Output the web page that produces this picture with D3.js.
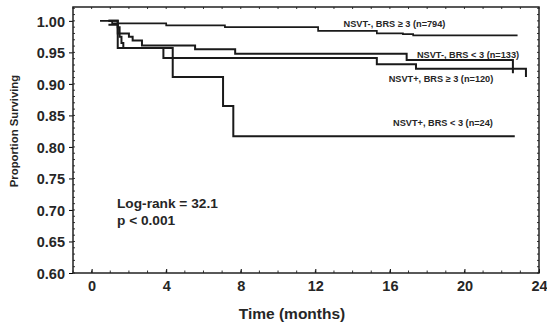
<!DOCTYPE html>
<html>
<head>
<meta charset="utf-8">
<script src="https://cdn.jsdelivr.net/npm/d3@7"></script>
<style>
  body { margin: 0; background: #fff; }
  text { font-family: "Liberation Sans", Arial, sans-serif; font-weight: bold; fill: #262626; }
</style>
</head>
<body>
<div id="chart"></div>
<script>
// Kaplan-Meier curves (time in months, proportion surviving)
const groupLabels = ["NSVT-, BRS \u2265 3 (n=794)", "NSVT-, BRS < 3 (n=133)", "NSVT+, BRS \u2265 3 (n=120)", "NSVT+, BRS < 3 (n=24)"];

const timeA = [0.45, 1.1, 4.0, 7.15, 12.15, 15.3, 16.7, 17.25, 22.85];
const survA = [1.0, 0.996, 0.993, 0.99, 0.984, 0.98, 0.979, 0.977, 0.977];

const timeB = [0.9, 1.4, 2.0, 2.2, 2.7, 5.55, 7.7, 16.9, 22.6, 22.6];
const survB = [0.994, 0.98, 0.975, 0.969, 0.961, 0.955, 0.948, 0.938, 0.938, 0.917];

const timeC = [0.9, 1.4, 1.5, 1.6, 1.7, 3.85, 15.3, 17.4, 23.3, 23.3];
const survC = [1.0, 0.99, 0.975, 0.965, 0.957, 0.941, 0.931, 0.924, 0.924, 0.911];

const timeD = [0.9, 1.4, 4.35, 7.05, 7.6, 22.7];
const survD = [1.0, 0.957, 0.911, 0.865, 0.817, 0.817];

const xTicks = [0, 4, 8, 12, 16, 20, 24];
const yTicks = [0.60, 0.65, 0.70, 0.75, 0.80, 0.85, 0.90, 0.95, 1.00];

const width = 547;
const height = 324;
const margin = {top: 7, right: 8, bottom: 51, left: 73};

const svg = d3.select("#chart").append("svg")
    .attr("width", width)
    .attr("height", height);

const x = d3.scaleLinear().domain([-1, 24]).range([margin.left, width - margin.right]);
const y = d3.scaleLinear().domain([0.6, 1.022]).range([height - margin.bottom, margin.top]);

// minor ticks along the frame
const minorX = d3.range(-1, 25, 1);
const minorY = d3.range(0.6, 1.021, 0.01);

svg.append("g")
    .attr("stroke", "#333")
    .attr("stroke-width", 1)
    .selectAll("line")
    .data(minorX)
    .join("line")
    .attr("x1", d => x(d)).attr("x2", d => x(d))
    .attr("y1", y(0.6)).attr("y2", y(0.6) - 2.5);

svg.append("g")
    .attr("stroke", "#333")
    .attr("stroke-width", 1)
    .selectAll("line")
    .data(minorX)
    .join("line")
    .attr("x1", d => x(d)).attr("x2", d => x(d))
    .attr("y1", margin.top).attr("y2", margin.top + 2);

svg.append("g")
    .attr("stroke", "#333")
    .attr("stroke-width", 1)
    .selectAll("line")
    .data(minorY)
    .join("line")
    .attr("x1", x(-1)).attr("x2", x(-1) + 2)
    .attr("y1", d => y(d)).attr("y2", d => y(d));

svg.append("g")
    .attr("stroke", "#333")
    .attr("stroke-width", 1)
    .selectAll("line")
    .data(minorY)
    .join("line")
    .attr("x1", x(24)).attr("x2", x(24) - 2)
    .attr("y1", d => y(d)).attr("y2", d => y(d));

// axes
const xAxis = svg.append("g")
    .attr("transform", `translate(0,${height - margin.bottom})`)
    .call(d3.axisBottom(x).tickValues(xTicks).tickSize(-4).tickPadding(8).tickFormat(d3.format("d")));
xAxis.select(".domain").remove();
xAxis.selectAll("text").style("font-size", "14.5px").attr("fill", "#262626");

const yAxis = svg.append("g")
    .attr("transform", `translate(${margin.left},0)`)
    .call(d3.axisLeft(y).tickValues(yTicks).tickSize(4).tickPadding(4).tickFormat(d3.format(".2f")));
yAxis.select(".domain").remove();
yAxis.selectAll("text").style("font-size", "14.5px").attr("fill", "#262626").attr("dy", "0.36em");

// frame
svg.append("rect")
    .attr("x", x(-1))
    .attr("y", margin.top)
    .attr("width", x(24) - x(-1))
    .attr("height", y(0.6) - margin.top)
    .attr("fill", "none")
    .attr("stroke", "#222")
    .attr("stroke-width", 1.5);

// survival curves
const series = [
    {t: timeA, s: survA, w: 1.7},
    {t: timeB, s: survB, w: 2},
    {t: timeC, s: survC, w: 2},
    {t: timeD, s: survD, w: 2}
];

const line = d3.line()
    .x(d => x(d[0]))
    .y(d => y(d[1]))
    .curve(d3.curveStepAfter);

svg.append("g")
    .attr("fill", "none")
    .attr("stroke", "#1a1a1a")
    .selectAll("path")
    .data(series)
    .join("path")
    .attr("stroke-width", d => d.w)
    .attr("d", d => line(d3.zip(d.t, d.s)));

// curve labels
const labelPos = [[394.5, 26.5], [468, 57.5], [441, 81.5], [443, 125.5]];
svg.append("g")
    .selectAll("text")
    .data(groupLabels)
    .join("text")
    .attr("x", (d, i) => labelPos[i][0])
    .attr("y", (d, i) => labelPos[i][1])
    .attr("text-anchor", "middle")
    .style("font-size", "9.2px")
    .text(d => d);

// statistics
svg.append("text")
    .attr("x", 117).attr("y", 208)
    .style("font-size", "13.7px")
    .text("Log-rank = 32.1");
svg.append("text")
    .attr("x", 117).attr("y", 225)
    .style("font-size", "13.7px")
    .text("p < 0.001");

// axis titles
svg.append("text")
    .attr("x", 292).attr("y", 318.5)
    .attr("text-anchor", "middle")
    .style("font-size", "15.5px")
    .text("Time (months)");

svg.append("text")
    .attr("transform", "translate(18,131) rotate(-90)")
    .attr("text-anchor", "middle")
    .style("font-size", "11.3px")
    .text("Proportion Surviving");
</script>
</body>
</html>
